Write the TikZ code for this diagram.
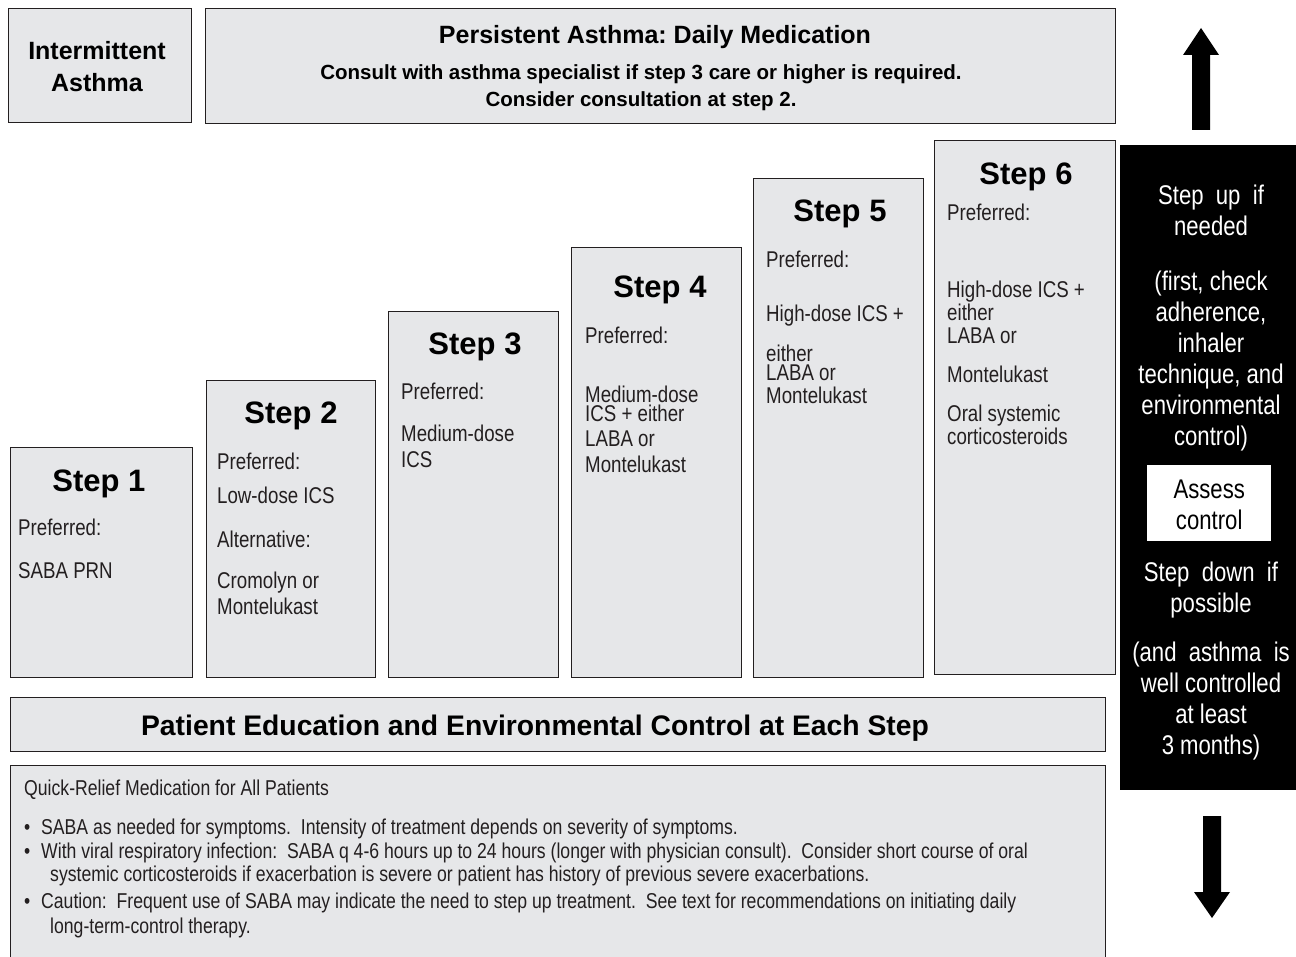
\documentclass[tikz,border=0pt]{standalone}
\usepackage{fontspec}
\setmainfont{Liberation Sans}
\newfontfamily\narrowfont[FakeStretch=0.82]{Liberation Sans}
\usetikzlibrary{positioning}
\definecolor{boxgray}{RGB}{230,231,233}
\definecolor{inkgray}{RGB}{35,31,32}
\frenchspacing
\tikzset{
  box/.style = {
    draw=inkgray, fill=boxgray, line width=1.3pt, anchor=north west, inner sep=0pt
  },
  steptitle/.style = {font=\bfseries\fontsize{31}{34}\selectfont, anchor=base},
  headtext/.style = {font=\bfseries, anchor=base, align=center, inner sep=0pt},
  body/.style = {
    font=\narrowfont\fontsize{22.8}{26}\selectfont, text=inkgray, anchor=north west,
    align=left, inner sep=0pt
  },
  ctrltext/.style = {
    font=\narrowfont\fontsize{27}{31}\selectfont, text=white, anchor=north,
    align=center, inner sep=0pt
  },
  note/.style = {font=\narrowfont\fontsize{21.5}{24}\selectfont, text=inkgray, anchor=base west, inner sep=0pt},
  bigarrow/.style = {fill=black},
}

\begin{document}
\begin{tikzpicture}[x=1pt, y=-1pt]
    \useasboundingbox (0,0) rectangle (1296,957);

    % Header boxes
    \node[box, minimum width=183, minimum height=114] (intermit) at (8,8) {};
    \node[headtext, font=\bfseries\fontsize{25}{32}\selectfont] (intermittext) at (97,92) {Intermittent\\Asthma};
    \node[box, minimum width=910, minimum height=115] (persist) at (205,8) {};
    \node[headtext, font=\bfseries\fontsize{25}{28}\selectfont] (persisttitle) at (655,44) {Persistent Asthma: Daily Medication};
    \node[headtext, font=\bfseries\fontsize{20.5}{27}\selectfont] (persistnote) at (641,107)
      {Consult with asthma specialist if step 3 care or higher is required.\\Consider consultation at step 2.};

    % Step 1
    \node[box, minimum width=182, minimum height=230] (step1) at (10,447) {};
    \node[steptitle] (step1title) at (99,491) {Step 1};
    \node[body] (step1text) at (18,519) {Preferred:\\[17pt]SABA PRN};

    % Step 2
    \node[box, minimum width=169, minimum height=297] (step2) at (206,380) {};
    \node[steptitle] (step2title) at (291,424) {Step 2};
    \node[body] (step2text) at (217,453)
      {Preferred:\\[8pt]Low-dose ICS\\[18pt]Alternative:\\[15pt]Cromolyn or\\Montelukast};

    % Step 3
    \node[box, minimum width=170, minimum height=366] (step3) at (388,311) {};
    \node[steptitle] (step3title) at (475,355) {Step 3};
    \node[body] (step3text) at (401,383) {Preferred:\\[16pt]Medium-dose\\ICS};

    % Step 4
    \node[box, minimum width=170, minimum height=430] (step4) at (571,247) {};
    \node[steptitle] (step4title) at (660,298) {Step 4};
    \node[body] (step4text) at (585,327)
      {Preferred:\\[33pt]Medium-dose\\[-7pt]ICS + either\\[-1pt]LABA or\\Montelukast};

    % Step 5
    \node[box, minimum width=170, minimum height=499] (step5) at (753,178) {};
    \node[steptitle] (step5title) at (840,222) {Step 5};
    \node[body] (step5text) at (766,251)
      {Preferred:\\[28pt]High-dose ICS +\\[14pt]either\\[-7pt]LABA or\\[-3pt]Montelukast};

    % Step 6
    \node[box, minimum width=181, minimum height=534] (step6) at (934,140) {};
    \node[steptitle] (step6title) at (1026,185) {Step 6};
    \node[body] (step6text) at (947,204)
      {Preferred:\\[51pt]High-dose ICS +\\[-3pt]either\\[-3pt]LABA or\\[13pt]Montelukast\\[13pt]Oral systemic\\[-3pt]corticosteroids};

    % Education and quick-relief boxes
    \node[box, minimum width=1095, minimum height=54] (edu) at (10,697) {};
    \node[headtext, font=\bfseries\fontsize{28.3}{32}\selectfont] (edutext) at (535,735)
      {Patient Education and Environmental Control at Each Step};
    \node[box, minimum width=1095, minimum height=210] (quick) at (10,765) {};
    \node[note] (quicktitle) at (24,795) {Quick-Relief Medication for All Patients};
    \node[note] (quickone) at (24,834)
      {\makebox[17pt][l]{•}SABA as needed for symptoms.\ \ Intensity of treatment depends on severity of symptoms.};
    \node[note] (quicktwo) at (24,858)
      {\makebox[17pt][l]{•}With viral respiratory infection:\ \ SABA q 4-6 hours up to 24 hours (longer with physician consult).\ \ Consider short course of oral};
    \node[note] (quicktwob) at (50,881)
      {systemic corticosteroids if exacerbation is severe or patient has history of previous severe exacerbations.};
    \node[note] (quickthree) at (24,908)
      {\makebox[17pt][l]{•}Caution:\ \ Frequent use of SABA may indicate the need to step up treatment.\ \ See text for recommendations on initiating daily};
    \node[note] (quickthreeb) at (50,933) {long-term-control therapy.};

    % Control column
    \node[fill=black, minimum width=176, minimum height=645, anchor=north west, inner sep=0pt] (ctrl) at (1120,145) {};
    \node[ctrltext] (stepup) at (1211,185) {Step\ \ up\ \ if\\needed};
    \node[ctrltext] (stepupnote) at (1211,271)
      {(first, check\\adherence,\\inhaler\\technique, and\\environmental\\control)};
    \node[fill=white, minimum width=124, minimum height=76, anchor=north west, inner sep=0pt] (assess) at (1147,465) {};
    \node[ctrltext, text=black, anchor=center, yshift=-2pt] (assesstext) at (assess.center) {Assess\\control};
    \node[ctrltext] (stepdown) at (1211,562) {Step\ \ down\ \ if\\possible};
    \node[ctrltext] (stepdownnote) at (1211,642)
      {(and\ \ asthma\ \ is\\well controlled\\at least\\3 months)};

    % Up and down arrows
    \fill[bigarrow] (1192,130) -- (1192,55) -- (1183,55) -- (1201,28) -- (1219,55) -- (1210,55) -- (1210,130) -- cycle;
    \fill[bigarrow] (1203,816) -- (1221,816) -- (1221,892) -- (1230,892) -- (1212,918) -- (1194,892) -- (1203,892) -- cycle;
\end{tikzpicture}
\end{document}
